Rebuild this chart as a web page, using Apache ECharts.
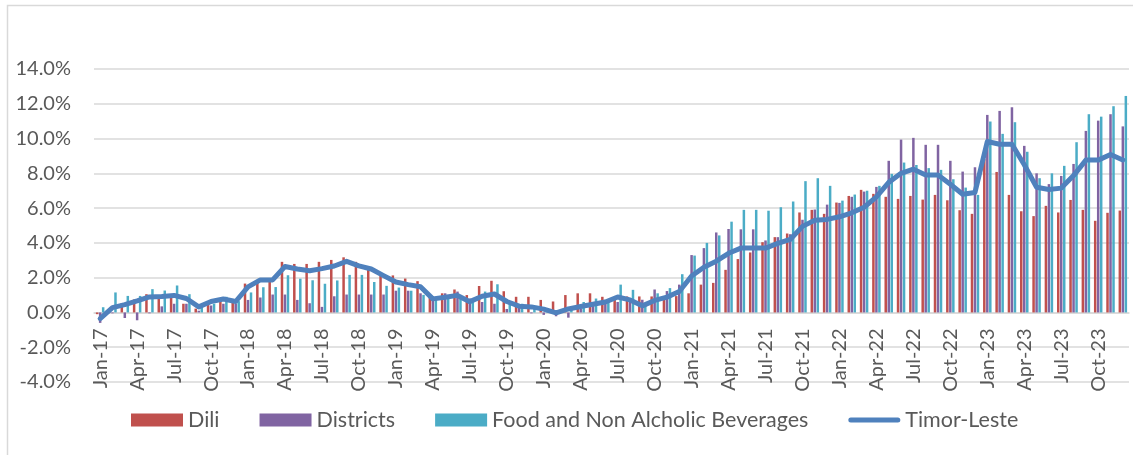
<!DOCTYPE html>
<html>
<head>
<meta charset="utf-8">
<script src="https://cdn.jsdelivr.net/npm/echarts@6/dist/echarts.min.js"></script>
<style>
  html, body { margin: 0; padding: 0; background: #fff; }
  #chart { width: 1133px; height: 455px; }
</style>
</head>
<body>
<div id="chart"></div>
<script>
// month labels, Jan-17 .. Dec-23
const monthNames = ['Jan', 'Feb', 'Mar', 'Apr', 'May', 'Jun', 'Jul', 'Aug', 'Sep', 'Oct', 'Nov', 'Dec'];
const years = ['17', '18', '19', '20', '21', '22', '23'];
const months = [];
years.forEach(y => monthNames.forEach(m => months.push(m + '-' + y)));

// inflation, %
const dili = [
  -0.1, 0.2, 0.53, 0.75, 1.05, 1.0, 0.85, 0.5, 0.22, 0.55, 0.6, 0.62,
  1.66, 1.78, 1.88, 2.91, 2.79, 2.79, 2.91, 3.02, 3.17, 2.91, 2.55, 2.25,
  2.13, 1.95, 1.8, 0.9, 1.1, 1.32, 1.0, 1.52, 1.82, 1.22, 0.9, 0.9,
  0.72, 0.63, 1.0, 1.1, 1.1, 0.9, 0.75, 0.92, 0.92, 0.92, 0.72, 0.94,
  1.1, 1.6, 1.7, 2.45, 3.07, 3.45, 4.04, 4.33, 4.54, 5.75, 5.9, 5.67,
  6.32, 6.7, 7.05, 6.82, 6.65, 6.53, 6.7, 6.49, 6.76, 6.45, 5.88, 5.67,
  8.82, 8.08, 6.76, 5.82, 5.54, 6.13, 5.75, 6.47, 5.9, 5.27, 5.73, 5.86
];
const districts = [
  -0.6, -0.05, -0.32, -0.45, -0.05, 0.35, 0.5, 0.5, 0.1, 0.4, 0.5, 0.5,
  0.72, 0.86, 1.03, 1.03, 0.72, 0.53, 0.32, 0.93, 1.03, 1.03, 1.03, 1.03,
  1.25, 1.25, 1.1, 0.9, 1.1, 1.2, 0.8, 0.6, 0.5, 0.2, 0.3, -0.05,
  -0.14, -0.22, -0.3, 0.2, 0.4, 0.5, 0.6, 0.7, 0.73, 1.32, 1.23, 1.6,
  3.3, 3.7, 4.6, 4.8, 4.78, 4.78, 4.14, 4.33, 4.5, 5.33, 5.92, 6.2,
  6.3, 6.65, 6.95, 7.22, 8.72, 9.94, 10.04, 9.64, 9.64, 8.72, 8.1, 8.35,
  11.36, 11.59, 11.8, 9.58, 8.0, 7.38, 7.85, 8.54, 10.44, 11.03, 11.4, 10.7
];
const food = [
  0.3, 1.15, 0.95, 0.95, 1.34, 1.26, 1.55, 1.05, 0.3, 0.5, 0.9, 0.65,
  1.15, 1.45, 1.46, 2.14, 1.94, 1.85, 1.65, 1.84, 2.16, 2.16, 1.75, 1.53,
  1.43, 1.25, 1.01, 0.88, 1.0, 0.9, 0.6, 1.2, 1.62, 0.5, 0.5, 0.2,
  0.1, 0.0, 0.3, 0.6, 0.8, 0.65, 1.6, 1.3, 0.45, 1.1, 1.4, 2.2,
  3.27, 4.0, 4.43, 5.22, 5.9, 5.9, 5.85, 6.05, 6.38, 7.55, 7.72, 7.28,
  6.43, 6.78, 7.0, 7.28, 7.97, 8.62, 8.48, 8.3, 8.2, 7.66, 7.18, 6.76,
  10.98, 10.27, 10.94, 9.24, 7.72, 8.0, 8.43, 9.79, 11.4, 11.26, 11.86, 12.45
];
const timorLeste = [
  -0.35, 0.28, 0.45, 0.66, 0.89, 0.92, 0.98, 0.8, 0.32, 0.63, 0.77, 0.63,
  1.47, 1.87, 1.87, 2.64, 2.5, 2.4, 2.52, 2.67, 2.94, 2.68, 2.5, 2.12,
  1.75, 1.6, 1.48, 0.78, 0.87, 0.98, 0.62, 0.93, 1.06, 0.63, 0.36, 0.32,
  0.19, -0.02, 0.2, 0.34, 0.47, 0.6, 0.89, 0.72, 0.38, 0.69, 0.88, 1.2,
  2.1, 2.6, 2.95, 3.4, 3.7, 3.7, 3.7, 3.97, 4.2, 4.95, 5.3, 5.35,
  5.5, 5.73, 6.05, 6.65, 7.48, 8.0, 8.24, 7.9, 7.9, 7.37, 6.8, 6.9,
  9.83, 9.67, 9.67, 8.49, 7.2, 7.07, 7.15, 7.87, 8.76, 8.76, 9.08, 8.77
];

const FONT = 'Lato';
const GREY_TXT = '#595959';
const GRID_CLR = '#D9D9D9';

// plot box
const GRID_TOP = 69, GRID_BOTTOM = 73, CHART_H = 455;
const Y_MIN = -4, Y_MAX = 14;
// move the category axis up onto the 0% line
const plotH = CHART_H - GRID_TOP - GRID_BOTTOM;
const zeroOffset = -plotH * (0 - Y_MIN) / (Y_MAX - Y_MIN);

let myChart = echarts.init(document.getElementById('chart'));
let option = {
  animation: false,
  textStyle: { fontFamily: FONT },
  graphic: [{
    type: 'rect',
    shape: { x: 7.5, y: 5.5, width: 1140, height: 470 },
    style: { fill: 'none', stroke: GRID_CLR, lineWidth: 1.5 },
    silent: true
  }],
  grid: { left: 94, right: 4, top: GRID_TOP, bottom: GRID_BOTTOM },
  legend: {
    left: 131,
    top: 409,
    padding: 0,
    itemWidth: 52,
    itemHeight: 13,
    itemGap: 40,
    textStyle: { color: GREY_TXT, fontSize: 21.5, fontFamily: FONT },
    data: [
      { name: 'Dili', icon: 'rect' },
      { name: 'Districts', icon: 'rect' },
      { name: 'Food and Non Alcholic Beverages', icon: 'rect' },
      {
        name: 'Timor-Leste',
        icon: 'path://M2.5,0 L49.5,0 A2.5,2.5,0,0,1,49.5,5 L2.5,5 A2.5,2.5,0,0,1,2.5,0 Z'
      }
    ]
  },
  xAxis: {
    type: 'category',
    data: months,
    offset: zeroOffset,
    axisLine: { onZero: false, lineStyle: { color: GRID_CLR, width: 1.5 } },
    axisTick: { show: false },
    axisLabel: {
      interval: 2,
      rotate: 90,
      margin: 16,
      color: GREY_TXT,
      fontSize: 20,
      fontFamily: FONT
    }
  },
  yAxis: {
    type: 'value',
    min: Y_MIN,
    max: Y_MAX,
    interval: 2,
    axisLine: { show: false },
    axisTick: { show: false },
    splitLine: { lineStyle: { color: GRID_CLR, width: 1.5 } },
    axisLabel: {
      margin: 23,
      color: GREY_TXT,
      fontSize: 20,
      fontFamily: FONT,
      formatter: v => v.toFixed(1) + '%'
    }
  },
  series: [
    {
      name: 'Dili',
      type: 'bar',
      data: dili,
      barWidth: 2.5,
      barGap: '20%',
      itemStyle: { color: '#C0504D' }
    },
    {
      name: 'Districts',
      type: 'bar',
      data: districts,
      barWidth: 2.5,
      barGap: '20%',
      itemStyle: { color: '#8064A2' }
    },
    {
      name: 'Food and Non Alcholic Beverages',
      type: 'bar',
      data: food,
      barWidth: 2.5,
      barGap: '20%',
      itemStyle: { color: '#4BACC6' }
    },
    {
      name: 'Timor-Leste',
      type: 'line',
      data: timorLeste,
      symbol: 'none',
      z: 5,
      itemStyle: { color: '#4F81BD' },
      lineStyle: { color: '#4F81BD', width: 5, cap: 'round', join: 'round' }
    }
  ]
};
myChart.setOption(option);
</script>
</body>
</html>
